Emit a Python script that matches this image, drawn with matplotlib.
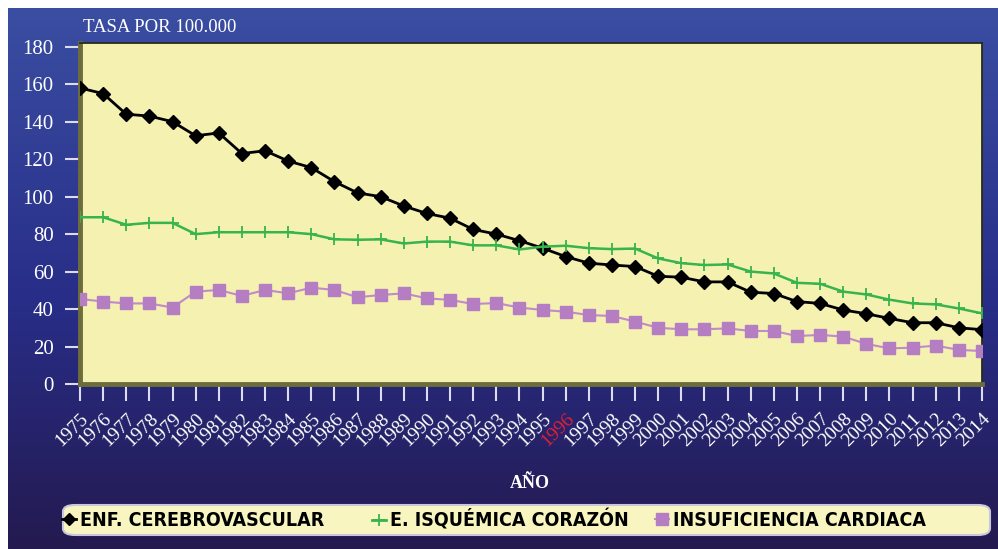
import matplotlib
matplotlib.use("Agg")
import matplotlib.pyplot as plt
import numpy as np
from matplotlib.lines import Line2D
from matplotlib.patches import FancyBboxPatch

years = list(range(1975, 2015))
cerebro = [158, 155, 144, 143, 140, 132.5, 134, 123, 124.5, 119, 115.5, 108, 102, 100, 95,
           91, 88.5, 82.5, 80, 76.5, 72.5, 68, 64.5, 63.5, 62.7, 57.5, 57, 54.5, 54.5, 49,
           48.3, 44, 43, 39.5, 37.5, 35, 32.7, 32.7, 30, 29]
isquemica = [89, 89, 85, 86, 86, 80, 81, 81, 81, 81, 80, 77.2, 77, 77.2, 75,
             76, 76, 74, 74, 71.8, 73.3, 73.8, 72.5, 72, 72.3, 67, 64.5, 63.5, 63.8, 60,
             59, 54, 53.5, 49.3, 47.8, 45, 43, 42.5, 40.3, 37.7]
insuf = [45.4, 44, 43, 43, 40.8, 49.3, 50.2, 47, 50.2, 48.4, 51.4, 50.2, 46.3, 47.5, 48.4,
         45.7, 44.9, 42.7, 43.2, 40.8, 39.5, 38.6, 36.8, 36.3, 33.3, 30, 29.2, 29.2, 29.7, 28.3,
         28.3, 25.6, 26.2, 25.3, 21.4, 19, 19.4, 20.5, 18.2, 17.6]
yticks = [0, 20, 40, 60, 80, 100, 120, 140, 160, 180]
series_names = ["ENF. CEREBROVASCULAR", "E. ISQUÉMICA CORAZÓN", "INSUFICIENCIA CARDIACA"]
highlight_year = 1996

W, H = 998, 549
fig = plt.figure(figsize=(W / 100, H / 100), dpi=100, facecolor="white")

# background gradient panel
bg = fig.add_axes([8 / W, 0, (W - 8) / W, (H - 8) / H])
bg.set_axis_off()
top = np.array([58, 78, 162]) / 255
mid = np.array([40, 45, 135]) / 255
bot = np.array([36, 26, 80]) / 255
n = 256
t = np.linspace(0, 1, n)[:, None]
grad = np.where(t < 0.55, top + (mid - top) * (t / 0.55), mid + (bot - mid) * ((t - 0.55) / 0.45))
bg.imshow(grad[:, None, :], aspect="auto", extent=[0, 1, 0, 1], origin="upper")
bg.set_xlim(0, 1)
bg.set_ylim(0, 1)

L, R, T, B = 80, 982, 43, 384
ax = fig.add_axes([L / W, 1 - B / H, (R - L) / W, (B - T) / H])
ax.set_facecolor("#f4f1b1")
ax.plot(years, cerebro, color="black", lw=2, marker="D", ms=7, mfc="black", mec="black", zorder=3)
ax.plot(years, isquemica, color="#37b44c", lw=1.8, marker="+", ms=9, mew=1.3, zorder=3)
ax.plot(years, insuf, color="#c08acb", lw=1.5, marker="s", ms=9, mfc="#b57dc2", mec="#b57dc2", zorder=3)
ax.set_xlim(1975, 2014)
ax.set_ylim(0, 182)
ax.set_yticks(yticks)
ax.set_yticklabels([str(v) for v in yticks], fontsize=15, color="white", family="Liberation Serif")
ax.set_xticks(years)
ax.set_xticklabels([str(y) for y in years], fontsize=14, color="white", family="Liberation Serif",
                   rotation=45, ha="right", va="top", rotation_mode="anchor")
for lbl, y in zip(ax.get_xticklabels(), years):
    if y == highlight_year:
        lbl.set_color("#e0203a")
ax.tick_params(axis="y", direction="out", length=11, width=1.5, color="#dcdcec", pad=8)
ax.tick_params(axis="x", direction="out", length=12, width=1.5, color="#dcdcec", pad=7)
for s in ["top", "right"]:
    ax.spines[s].set_color("#2a2a1a")
    ax.spines[s].set_linewidth(1.3)
for s in ["left", "bottom"]:
    ax.spines[s].set_color("#6d6d3c")
    ax.spines[s].set_linewidth(3.5)

fig.text(83 / W, 1 - 27 / H, "TASA POR 100.000", color="white", fontsize=13.5,
         family="Liberation Serif", ha="left", va="center")
fig.text(530 / W, 1 - 483 / H, "AÑO", color="white", fontsize=13, fontweight="bold",
         family="Liberation Serif", ha="center", va="center")

# legend box
lx0, lx1, ly0, ly1 = 63, 990, 505, 535
box = FancyBboxPatch((lx0 / W, 1 - ly1 / H), (lx1 - lx0) / W, (ly1 - ly0) / H,
                     boxstyle="round,pad=0,rounding_size=0.012", transform=fig.transFigure,
                     facecolor="#f8f5c0", edgecolor="#c8c8dc", lw=1.5, zorder=5)
fig.patches.append(box)
handles = [
    Line2D([], [], color="black", lw=2, marker="D", ms=6),
    Line2D([], [], color="#37b44c", lw=2, marker="+", ms=9, mew=1.3),
    Line2D([], [], color="#c08acb", lw=1.5, marker="s", ms=9, mfc="#b57dc2", mec="#b57dc2"),
]
entry_x = [62, 372, 655]
for h, name, ex in zip(handles, series_names, entry_x):
    lg = fig.legend([h], [name], loc="center left",
                    bbox_to_anchor=(ex / W, 1 - (ly0 + ly1) / 2 / H), frameon=False,
                    handlelength=0.7, handletextpad=0.25, borderpad=0, borderaxespad=0,
                    prop={"family": "DejaVu Sans", "size": 14, "stretch": "condensed",
                          "weight": "bold"})
    lg.set_zorder(6)

fig.savefig("out.png", dpi=100, facecolor="white")
